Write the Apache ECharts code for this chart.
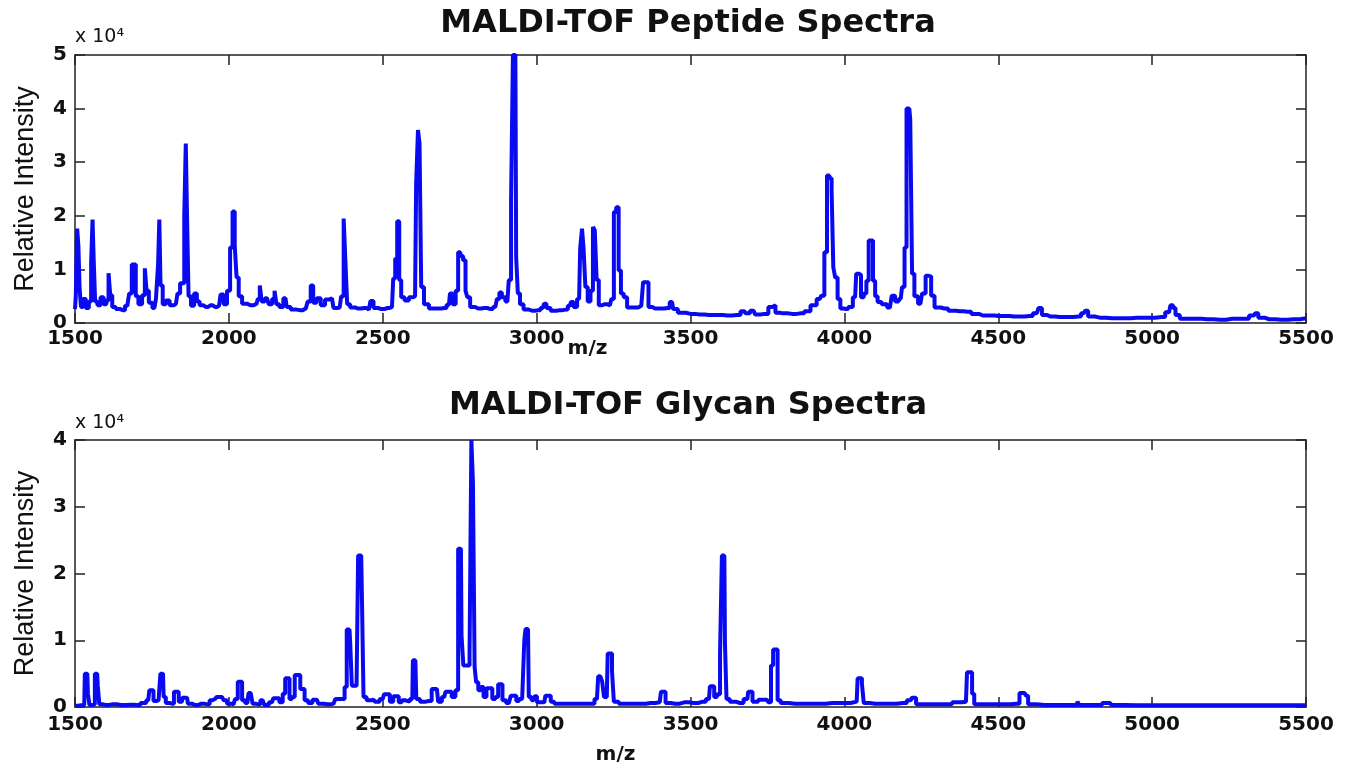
<!DOCTYPE html>
<html>
<head>
<meta charset="utf-8">
<title>MALDI-TOF Spectra</title>
<script src="https://cdn.jsdelivr.net/npm/echarts@6/dist/echarts.min.js"></script>
<style>
  html, body { margin: 0; padding: 0; background: #fff; }
  #main { width: 1351px; height: 769px; }
</style>
</head>
<body>
<div id="main"></div>
<script>
// x range and ticks
var mzTicks = [1500, 2000, 2500, 3000, 3500, 4000, 4500, 5000, 5500];

// peptide spectrum (m/z, intensity)
var peptideMz = [1500,1505,1509,1513,1517,1522,1530,1540,1550,1555,1559,1563,1568,1578,1588,1598,1606,1612,1617,1625,1640,1655,1670,1682,1687,1695,1700,1712,1724,1730,1735,1745,1758,1768,1772,1776,1780,1790,1800,1815,1828,1838,1845,1852,1858,1862,1866,1872,1882,1892,1900,1910,1925,1940,1955,1968,1978,1988,2000,2008,2016,2022,2028,2036,2050,2070,2090,2098,2103,2110,2124,2135,2146,2151,2158,2170,2184,2192,2210,2230,2250,2262,2270,2278,2292,2305,2320,2335,2345,2360,2370,2376,2381,2388,2400,2420,2440,2455,2465,2475,2495,2515,2530,2538,2543,2551,2556,2564,2578,2592,2605,2612,2617,2622,2628,2640,2660,2680,2700,2715,2722,2732,2742,2748,2756,2766,2772,2778,2790,2810,2830,2850,2866,2876,2882,2892,2905,2914,2920,2926,2931,2936,2942,2950,2965,2985,3005,3020,3028,3036,3055,3075,3095,3108,3115,3125,3138,3145,3150,3155,3162,3170,3180,3186,3192,3198,3206,3220,3238,3248,3254,3263,3270,3278,3288,3300,3320,3340,3352,3360,3367,3385,3405,3425,3440,3448,3470,3500,3530,3560,3590,3620,3650,3675,3682,3705,3715,3740,3766,3772,3780,3800,3830,3860,3880,3900,3920,3930,3940,3947,3955,3962,3966,3974,3982,3992,4005,4020,4035,4042,4050,4058,4068,4075,4083,4090,4096,4104,4112,4130,4148,4160,4170,4183,4192,4199,4205,4211,4217,4223,4232,4247,4258,4270,4278,4286,4300,4325,4350,4375,4400,4425,4450,4475,4500,4525,4550,4575,4600,4625,4637,4647,4670,4700,4730,4760,4778,4787,4797,4830,4870,4910,4950,4990,5030,5055,5064,5072,5080,5100,5140,5180,5220,5260,5300,5330,5340,5350,5380,5420,5460,5500];
var peptideInt = [2600,5000,17600,14400,6400,3000,4500,2800,4000,11300,19300,11300,4000,3300,4800,3500,4200,9300,5200,3000,2600,2400,3200,5500,10900,10900,5000,3500,5200,10200,6000,3800,2800,4500,11000,19300,7000,3500,4200,3300,3600,5500,7400,7400,20000,33500,20000,5000,3200,5500,4000,3300,3000,3300,3000,3200,5300,3500,6000,14100,20800,14500,8500,5000,3600,3300,3600,4500,7000,4000,4600,3500,4500,6000,3500,3000,4600,3000,2500,2400,2700,4000,7000,3800,4600,3300,4400,4600,2800,2900,5000,19500,11700,3500,2900,2700,2800,2500,4100,2800,2600,2800,3000,8300,12000,19000,8000,4800,4200,4800,5000,26000,36000,33500,6700,3500,2700,2700,2800,3400,5500,3500,6000,13200,12500,11700,6000,4800,3000,2700,2800,2600,3000,4500,5700,4800,4000,8000,22900,50000,50000,12300,5500,3500,2500,2300,2400,2800,3600,2800,2300,2400,2500,3200,3900,3000,4500,13900,17600,13900,6700,4000,6000,17900,17300,8000,3300,3500,3300,4500,20700,21600,9800,5500,4800,2900,2900,3200,7600,7600,3000,2700,2700,2800,3900,2600,1900,1700,1600,1500,1500,1400,1500,2200,1800,2300,1600,1700,3000,3300,1900,1800,1700,1800,2200,3300,4500,5100,13200,27500,27000,24700,10400,8500,4500,2700,2600,3000,4800,9200,9000,4800,5500,7900,15400,15400,7900,5000,3900,3500,2900,5100,4000,4500,6700,14100,40000,40000,38000,9200,5000,3600,5500,8800,8700,5100,2900,2700,2300,2200,2100,1700,1400,1400,1300,1300,1200,1200,1300,1800,2800,1500,1200,1100,1100,1200,1800,2300,1200,1000,900,900,1000,1000,1100,2000,3300,2800,1500,800,800,700,600,800,800,1400,1800,1000,700,600,700,900];

// glycan spectrum (m/z, intensity)
var glycanMz = [1500,1520,1530,1534,1540,1544,1550,1562,1567,1572,1576,1582,1600,1620,1650,1680,1700,1725,1738,1745,1752,1758,1768,1775,1780,1786,1790,1800,1815,1828,1834,1840,1856,1864,1870,1890,1910,1930,1945,1955,1965,1978,1988,2000,2015,2025,2033,2040,2046,2060,2068,2074,2080,2095,2110,2120,2140,2148,2158,2170,2180,2186,2194,2200,2210,2218,2228,2236,2242,2250,2265,2278,2286,2295,2320,2340,2352,2362,2372,2380,2386,2392,2397,2402,2412,2418,2422,2430,2435,2440,2455,2470,2480,2500,2508,2518,2528,2540,2548,2556,2568,2580,2596,2600,2606,2612,2630,2650,2668,2676,2684,2700,2708,2718,2730,2742,2748,2754,2758,2766,2778,2786,2790,2796,2801,2806,2815,2823,2832,2842,2852,2860,2872,2878,2886,2892,2910,2922,2930,2938,2948,2958,2962,2966,2972,2977,2990,2997,3005,3025,3032,3042,3050,3065,3090,3120,3150,3180,3196,3204,3210,3216,3222,3228,3234,3242,3248,3254,3280,3310,3340,3370,3400,3408,3416,3422,3450,3480,3510,3540,3560,3566,3574,3580,3592,3600,3604,3610,3614,3620,3635,3660,3685,3690,3698,3705,3735,3748,3758,3765,3772,3780,3786,3800,3840,3880,3920,3960,4000,4040,4046,4054,4060,4066,4100,4150,4190,4216,4222,4230,4236,4280,4330,4370,4395,4402,4412,4418,4426,4470,4520,4560,4578,4586,4594,4600,4650,4700,4755,4760,4766,4820,4855,4864,4870,4950,5050,5150,5250,5350,5500];
var glycanInt = [200,250,300,5000,5000,2000,300,400,5000,5000,3200,400,300,400,300,350,300,600,1000,2500,2500,900,1000,1200,5000,5000,1500,600,500,2300,2300,800,1400,1400,500,300,500,400,1000,1200,1500,1500,1000,500,400,1200,3800,3800,1000,600,2100,2100,500,400,1000,300,700,1300,1300,700,2000,4300,4300,1200,1500,4800,4800,2700,2700,1000,600,1100,1100,500,400,500,1200,1200,1200,3000,11600,11600,9300,3200,3200,3500,22700,22700,16000,1500,1000,1100,800,1200,1900,1900,800,1600,1600,700,1000,800,1200,7000,7000,1200,800,900,2700,2700,800,1500,2300,2300,1500,2500,23700,23700,10700,6200,6200,8000,40000,33700,6000,3700,2500,3000,1500,2800,2800,1200,1500,3400,3400,1000,600,1700,1700,900,1200,1100,10000,11700,11700,1500,1000,1600,700,700,1700,1700,800,500,500,500,500,500,1200,4600,4600,3800,1500,1500,8000,8000,5300,800,500,500,500,600,700,2300,2300,600,500,700,600,800,1200,3100,3100,1500,1900,8000,22700,22700,9500,1200,800,600,1200,2300,2300,800,1100,1100,700,6200,8600,8600,1000,600,500,500,500,600,600,800,4300,4300,3500,600,500,500,600,1000,1400,1400,400,400,400,700,800,5200,5200,2000,400,400,400,500,2100,2100,1700,400,300,300,300,800,300,300,600,600,300,250,250,250,250,250,250];

function pairs(xs, ys) {
    var out = [];
    for (var i = 0; i < xs.length; i++) out.push([xs[i], ys[i]]);
    return out;
}

var myChart = echarts.init(document.getElementById('main'), null, { renderer: 'canvas' });

var lineColor = '#0a0af0';
var axisCol = '#222';
var tickFont = { fontFamily: 'DejaVu Sans', fontWeight: 'bold', fontSize: 20, color: '#111' };

function xMain(grid, labelMargin, nameGap, nameShift) {
    return {
        type: 'value', gridIndex: grid, min: mzTicks[0], max: mzTicks[mzTicks.length - 1], interval: 500,
        name: 'm/z', nameLocation: 'middle', nameGap: nameGap, nameMoveOverlap: false,
        nameTextStyle: { fontFamily: 'DejaVu Sans', fontWeight: 'bold', fontSize: 20, color: '#111', padding: [0, nameShift, 0, 0] },
        axisLine: { show: true, onZero: false, lineStyle: { color: axisCol, width: 1.5 } },
        axisTick: { show: true, inside: true, length: 10, lineStyle: { color: axisCol, width: 1.5 } },
        axisLabel: Object.assign({ margin: labelMargin, formatter: function (v) { return String(v); } }, tickFont),
        splitLine: { show: false }
    };
}
function xTop(grid) {
    return {
        type: 'value', gridIndex: grid, position: 'top', min: mzTicks[0], max: mzTicks[mzTicks.length - 1], interval: 500,
        axisLine: { show: true, onZero: false, lineStyle: { color: axisCol, width: 1.5 } },
        axisTick: { show: true, inside: true, length: 10, lineStyle: { color: axisCol, width: 1.5 } },
        axisLabel: { show: false }, splitLine: { show: false }
    };
}
function yMain(grid, max) {
    return {
        type: 'value', gridIndex: grid, min: 0, max: max, interval: 10000,
        name: 'Relative Intensity', nameLocation: 'middle', nameGap: 36,
        nameTextStyle: { fontFamily: 'Liberation Sans', fontSize: 27, color: '#111' },
        axisLine: { show: true, onZero: false, lineStyle: { color: axisCol, width: 1.5 } },
        axisTick: { show: true, inside: true, length: 10, lineStyle: { color: axisCol, width: 1.5 } },
        axisLabel: Object.assign({ margin: 8, formatter: function (v) { return v / 10000; } }, tickFont),
        splitLine: { show: false }
    };
}
function yRight(grid, max) {
    return {
        type: 'value', gridIndex: grid, position: 'right', min: 0, max: max, interval: 10000,
        axisLine: { show: true, onZero: false, lineStyle: { color: axisCol, width: 1.5 } },
        axisTick: { show: true, inside: true, length: 10, lineStyle: { color: axisCol, width: 1.5 } },
        axisLabel: { show: false }, splitLine: { show: false }
    };
}

var titleFont = { fontFamily: 'DejaVu Sans', fontWeight: 'bold', fontSize: 32, color: '#111' };
var expFont = { fontFamily: 'DejaVu Sans', fontWeight: 'normal', fontSize: 19, color: '#111' };

var option = {
    backgroundColor: '#fff',
    animation: false,
    title: [
        { text: 'MALDI-TOF Peptide Spectra', left: 688, top: 8, textAlign: 'center', padding: 0, textStyle: titleFont },
        { text: 'MALDI-TOF Glycan Spectra', left: 688, top: 390, textAlign: 'center', padding: 0, textStyle: titleFont },
        { text: 'x 10\u2074', left: 75, top: 28, padding: 0, textStyle: expFont },
        { text: 'x 10\u2074', left: 75, top: 414, padding: 0, textStyle: expFont }
    ],
    grid: [
        { left: 75, top: 55, right: 45, height: 268 },
        { left: 75, top: 440, right: 45, height: 267 }
    ],
    xAxis: [xMain(0, 6, 16, 206), xMain(1, 8, 38, 150), xTop(0), xTop(1)],
    yAxis: [yMain(0, 50000), yMain(1, 40000), yRight(0, 50000), yRight(1, 40000)],
    series: [
        {
            name: 'Peptide', type: 'line', xAxisIndex: 0, yAxisIndex: 0,
            step: 'middle', showSymbol: false, clip: true,
            lineStyle: { color: lineColor, width: 4 },
            data: pairs(peptideMz, peptideInt)
        },
        {
            name: 'Glycan', type: 'line', xAxisIndex: 1, yAxisIndex: 1,
            step: 'middle', showSymbol: false, clip: true,
            lineStyle: { color: lineColor, width: 4 },
            data: pairs(glycanMz, glycanInt)
        }
    ]
};

myChart.setOption(option);
</script>
</body>
</html>
